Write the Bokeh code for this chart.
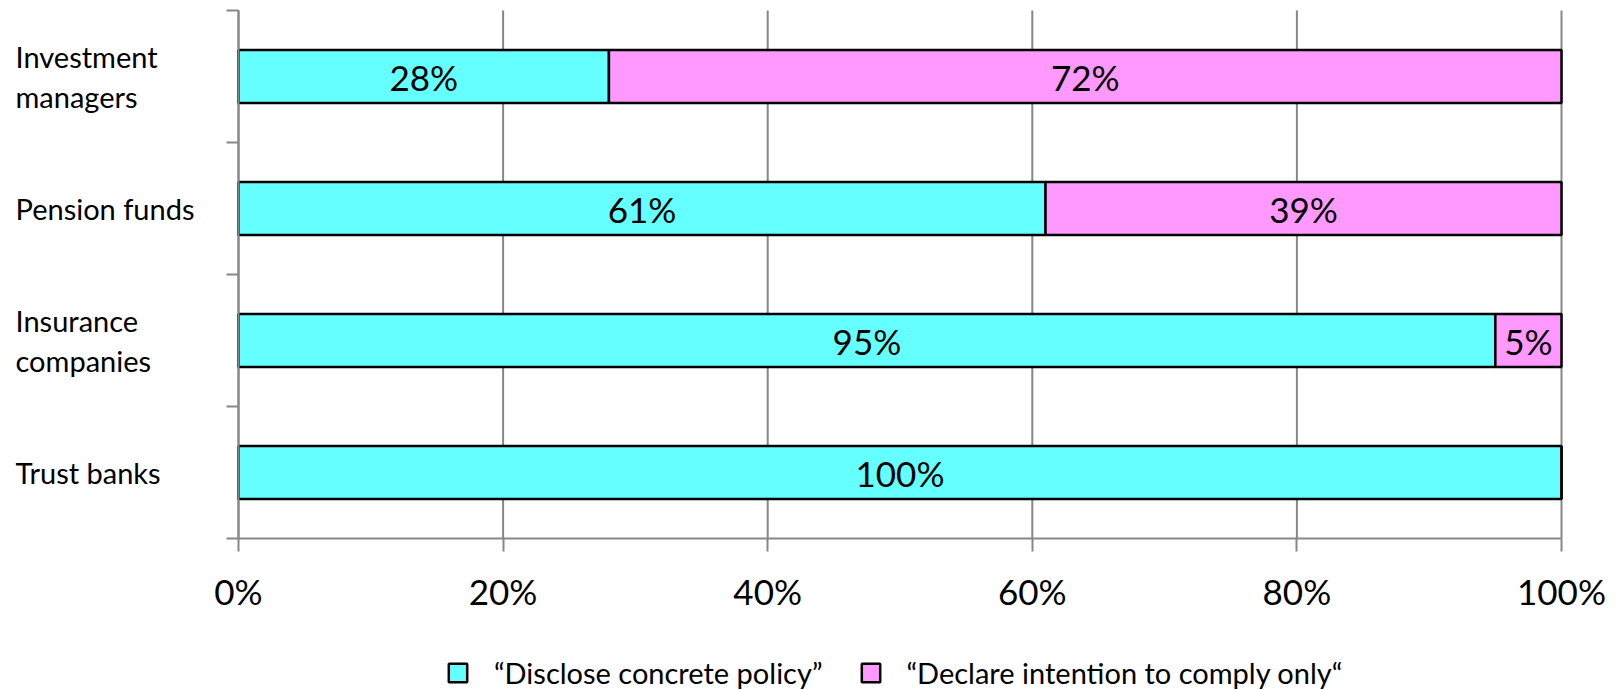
from bokeh.plotting import figure
from bokeh.models import (ColumnDataSource, Range1d, LinearAxis, FixedTicker,
                          PrintfTickFormatter, Legend, LegendItem)
from bokeh.core.properties import value
from bokeh.embed import file_html
from bokeh.resources import INLINE

# Survey: how institutions respond to the stewardship code
categories = ["Investment managers", "Pension funds", "Insurance companies", "Trust banks"]
category_labels = ["Investment\nmanagers", "Pension funds", "Insurance\ncompanies", "Trust banks"]
disclose = [28, 61, 95, 100]
declare = [72, 39, 5, 0]
series_names = ["\u201cDisclose concrete policy\u201d", "\u201cDeclare intention to comply only\u201c"]
x_ticks = [0, 20, 40, 60, 80, 100]

FONT = "Lato"
GREY = "#878787"
CYAN = "#66FFFF"
PINK = "#FF99FF"

# canvas and the pixel box that holds the bars
W, H = 1616, 690
LEFT, RIGHT, TOP, BOTTOM = 238, 55, 10, 152
LABEL_X = 15                           # left edge of the category labels, px
n = len(categories)
px_x = (W - LEFT - RIGHT) / 100.0     # px per percent
px_y = (H - TOP - BOTTOM) / n         # px per category band

# the frame covers the whole canvas so the axes (pinned in place) and the
# legend can sit in the margins without being clipped
x_range = Range1d(-LEFT / px_x, 100 + RIGHT / px_x)
y_range = Range1d(-BOTTOM / px_y, n + TOP / px_y)

# first category sits at the top of the chart
ypos = [n - i - 0.5 for i in range(n)]

src = ColumnDataSource(dict(
    y=ypos,
    d0=[0] * n,
    d1=disclose,
    c1=[a + b for a, b in zip(disclose, declare)],
    dmid=[v / 2 for v in disclose],
    cmid=[a + b / 2 for a, b in zip(disclose, declare)],
    dlab=[f"{v}%" if v > 0 else "" for v in disclose],
    clab=[f"{v}%" if v > 0 else "" for v in declare],
))

p = figure(width=W, height=H, output_backend="svg", toolbar_location=None,
           x_range=x_range, y_range=y_range,
           x_axis_location=None, y_axis_location=None,
           min_border=0)
p.outline_line_color = None
p.background_fill_color = "white"
p.border_fill_color = "white"
p.grid.visible = False

# vertical gridlines at the percent ticks, limited to the bar area
p.segment(x0=x_ticks, y0=[0] * len(x_ticks), x1=x_ticks, y1=[n] * len(x_ticks),
          line_color=GREY, line_width=2)

# x axis with percent ticks, pinned at y=0
xaxis = LinearAxis(ticker=FixedTicker(ticks=x_ticks),
                   formatter=PrintfTickFormatter(format="%d%%"),
                   fixed_location=0, bounds=(0, 100))
xaxis.axis_line_color = GREY
xaxis.axis_line_width = 2
xaxis.major_tick_line_color = GREY
xaxis.major_tick_line_width = 2
xaxis.major_tick_out = 13
xaxis.major_tick_in = 0
xaxis.minor_tick_line_color = None
xaxis.major_label_text_font = FONT
xaxis.major_label_text_font_size = "35px"
xaxis.major_label_text_color = "black"
xaxis.major_label_standoff = 18
p.add_layout(xaxis, "below")

# y axis line pinned at x=0 with tick marks at the category boundaries
yaxis = LinearAxis(ticker=FixedTicker(ticks=[], minor_ticks=list(range(n + 1))),
                   fixed_location=0, bounds=(0, n))
yaxis.axis_line_color = GREY
yaxis.axis_line_width = 2
yaxis.major_tick_line_color = None
yaxis.minor_tick_line_color = GREY
yaxis.minor_tick_line_width = 2
yaxis.minor_tick_out = 12
yaxis.minor_tick_in = 0
p.add_layout(yaxis, "left")

# category names, left-aligned in the left margin
label_axis = LinearAxis(ticker=FixedTicker(ticks=ypos),
                        fixed_location=(LABEL_X - LEFT) / px_x)
label_axis.major_label_overrides = {y: lab for y, lab in zip(ypos, category_labels)}
label_axis.axis_line_color = None
label_axis.major_tick_line_color = None
label_axis.minor_tick_line_color = None
label_axis.major_tick_out = 0
label_axis.major_tick_in = 0
label_axis.major_label_standoff = 0
label_axis.major_label_text_font = FONT
label_axis.major_label_text_font_size = "29px"
label_axis.major_label_text_color = "black"
label_axis.major_label_text_line_height = 1.12
p.add_layout(label_axis, "right")

r1 = p.hbar(y="y", left="d0", right="d1", height=0.4, source=src,
            fill_color=CYAN, line_color="black", line_width=2.5)
r2 = p.hbar(y="y", left="d1", right="c1", height=0.4, source=src,
            fill_color=PINK, line_color="black", line_width=2.5)

p.text(x="dmid", y="y", text="dlab", source=src, text_align="center",
       text_baseline="middle", text_font=value(FONT), text_font_size="35px",
       text_color="black")
p.text(x="cmid", y="y", text="clab", source=src, text_align="center",
       text_baseline="middle", text_font=value(FONT), text_font_size="35px",
       text_color="black")

legend = Legend(items=[LegendItem(label=series_names[0], renderers=[r1]),
                       LegendItem(label=series_names[1], renderers=[r2])],
                orientation="horizontal", location=(446, 0))
legend.border_line_color = None
legend.background_fill_color = None
legend.padding = 0
legend.margin = 0
legend.spacing = 36
legend.glyph_width = 23
legend.glyph_height = 23
legend.label_standoff = 25
legend.label_text_font = FONT
legend.label_text_font_size = "29px"
legend.label_text_color = "black"
p.add_layout(legend, "center")

open("out.html", "w").write(file_html(p, INLINE))
